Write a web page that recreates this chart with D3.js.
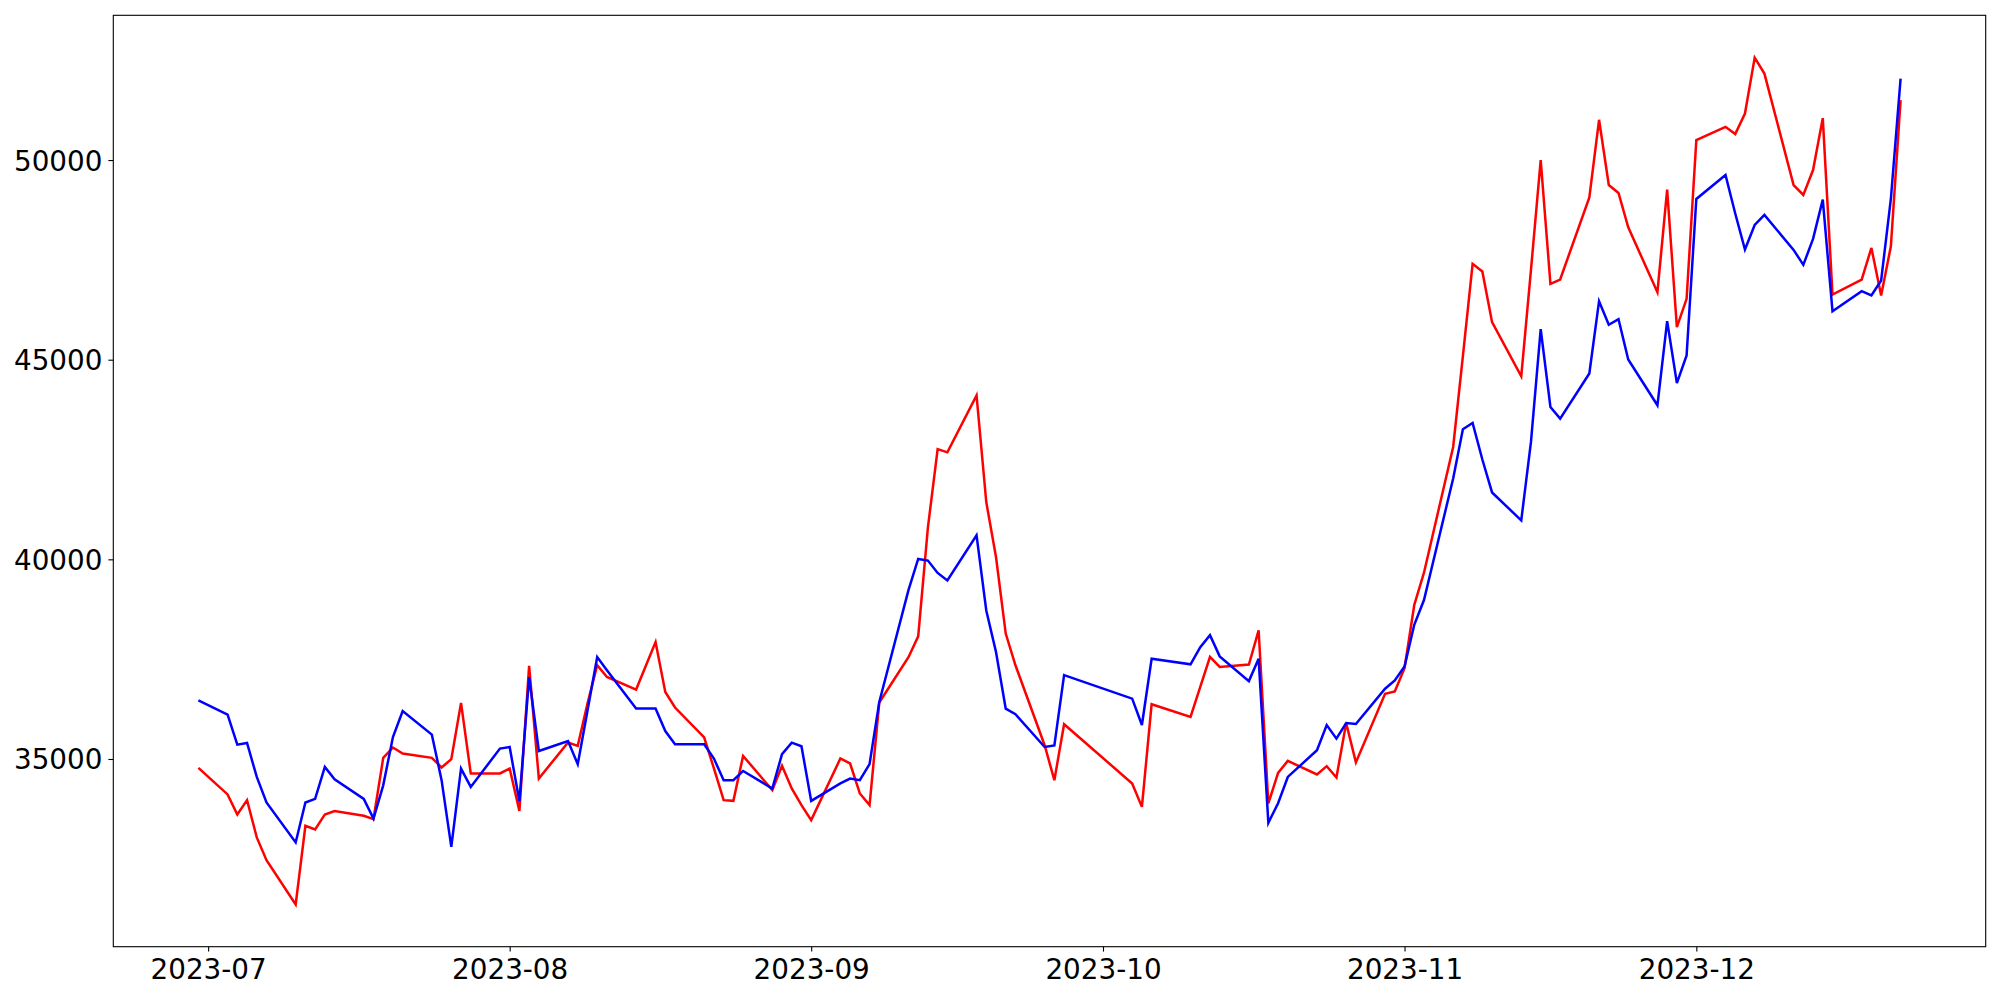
<!DOCTYPE html>
<html>
<head>
<meta charset="utf-8">
<script src="https://cdn.jsdelivr.net/npm/d3@7"></script>
<style>
  html, body { margin: 0; padding: 0; background: #fff; }
  svg { display: block; }
  text { font-family: "DejaVu Sans", sans-serif; }
</style>
</head>
<body>
<svg id="chart" width="2000" height="1000"></svg>
<script>
const dates = [
  "2023-06-30",
  "2023-07-03","2023-07-04","2023-07-05","2023-07-06","2023-07-07",
  "2023-07-10","2023-07-11","2023-07-12","2023-07-13","2023-07-14",
  "2023-07-17","2023-07-18","2023-07-19","2023-07-20","2023-07-21",
  "2023-07-24","2023-07-25","2023-07-26","2023-07-27","2023-07-28",
  "2023-07-31","2023-08-01","2023-08-02","2023-08-03","2023-08-04",
  "2023-08-07","2023-08-08","2023-08-09","2023-08-10","2023-08-11",
  "2023-08-14","2023-08-16","2023-08-17","2023-08-18",
  "2023-08-21","2023-08-22","2023-08-23","2023-08-24","2023-08-25",
  "2023-08-28","2023-08-29","2023-08-30","2023-08-31","2023-09-01",
  "2023-09-04","2023-09-05","2023-09-06","2023-09-07","2023-09-08",
  "2023-09-11","2023-09-12","2023-09-13","2023-09-14","2023-09-15",
  "2023-09-18","2023-09-19","2023-09-20","2023-09-21","2023-09-22",
  "2023-09-25","2023-09-26","2023-09-27",
  "2023-10-04","2023-10-05","2023-10-06",
  "2023-10-10","2023-10-11","2023-10-12","2023-10-13",
  "2023-10-16","2023-10-17","2023-10-18","2023-10-19","2023-10-20",
  "2023-10-23","2023-10-24","2023-10-25","2023-10-26","2023-10-27",
  "2023-10-30","2023-10-31","2023-11-01","2023-11-02","2023-11-03",
  "2023-11-06","2023-11-07","2023-11-08","2023-11-09","2023-11-10",
  "2023-11-13","2023-11-14","2023-11-15","2023-11-16","2023-11-17",
  "2023-11-20","2023-11-21","2023-11-22","2023-11-23","2023-11-24",
  "2023-11-27","2023-11-28","2023-11-29","2023-11-30","2023-12-01",
  "2023-12-04","2023-12-05","2023-12-06","2023-12-07","2023-12-08",
  "2023-12-11","2023-12-12","2023-12-13","2023-12-14","2023-12-15",
  "2023-12-18","2023-12-19","2023-12-20","2023-12-21","2023-12-22"
];

const redValues = [
  34777,
  34112,33611,33969,33035,32467,
  31359,33326,33235,33611,33694,
  33576,33494,35028,35288,35138,
  35028,34787,34995,36404,34637,
  34637,34762,33700,37330,34512,
  35413,35328,36389,37347,37055,
  36739,37930,36679,36289,
  35538,34762,33969,33951,35078,
  34219,34828,34262,33844,33469,
  35012,34887,34137,33844,36414,
  37550,38070,40800,42760,42680,
  44104,41434,40058,38141,37347,
  35345,34469,35871,
  34387,33801,36372,
  36054,36804,37555,37305,
  37365,38223,33886,34652,34952,
  34612,34820,34537,35900,34915,
  36633,36690,37275,38858,39665,
  42815,45090,47400,47208,45940,
  44583,47250,50000,46900,47008,
  49065,51008,49375,49175,48315,
  46690,49258,45815,46525,50500,
  50832,50650,51165,52565,52165,
  49375,49125,49750,51050,46633,
  47008,47800,46608,47840,51500
];

const blueValues = [
  36470,
  36110,35360,35400,34550,33910,
  32910,33910,34000,34800,34490,
  34000,33510,34340,35550,36200,
  35610,34470,32800,34760,34300,
  35260,35300,33940,37050,35200,
  35450,34870,36210,37555,37225,
  36264,36264,35700,35370,
  35370,35010,34470,34470,34700,
  34260,35120,35410,35320,33950,
  34390,34510,34470,34870,36430,
  39230,40010,39970,39660,39470,
  40600,38720,37680,36260,36120,
  35300,35340,37100,
  36510,35850,37510,
  37370,37800,38100,37570,
  36950,37510,33400,33890,34550,
  35220,35850,35510,35900,35875,
  36760,36965,37315,38360,38980,
  42025,43260,43415,42500,41675,
  40975,42940,45765,43815,43525,
  44655,46465,45875,46015,45005,
  43858,45965,44415,45108,49025,
  49625,48660,47758,48375,48625,
  47750,47375,48025,49008,46215,
  46715,46608,46983,49025,52040
];

const yTickValues = [35000, 40000, 45000, 50000];
const xTickLabels = ["2023-07", "2023-08", "2023-09", "2023-10", "2023-11", "2023-12"];

const W = 2000, H = 1000;
const margin = { left: 113.3, right: W - 1985.7, top: 15.3, bottom: H - 946.7 };
const svg = d3.select("#chart");

const parse = d3.utcParse("%Y-%m-%d");
const parsedDates = dates.map(parse);
const redSeries = parsedDates.map((d, i) => ({ date: d, value: redValues[i] }));
const blueSeries = parsedDates.map((d, i) => ({ date: d, value: blueValues[i] }));

// matplotlib-like 5% auto margins
const xExt = d3.extent(parsedDates);
const xPad = (xExt[1] - xExt[0]) * 0.05;
const allVals = redValues.concat(blueValues);
const yExt = d3.extent(allVals);
const yPad = (yExt[1] - yExt[0]) * 0.05;

const x = d3.scaleUtc()
  .domain([new Date(+xExt[0] - xPad), new Date(+xExt[1] + xPad)])
  .range([margin.left, W - margin.right]);
const y = d3.scaleLinear()
  .domain([yExt[0] - yPad, yExt[1] + yPad])
  .range([H - margin.bottom, margin.top]);

const fontSize = 27.8;
const tickLen = 4.9;

// X axis
const xTicks = xTickLabels.map(s => d3.utcParse("%Y-%m")(s));
const xAxis = d3.axisBottom(x)
  .tickValues(xTicks)
  .tickFormat((d, i) => xTickLabels[i])
  .tickSize(tickLen)
  .tickSizeOuter(0)
  .tickPadding(7);
const gx = svg.append("g")
  .attr("transform", `translate(0,${H - margin.bottom})`)
  .call(xAxis);
gx.select(".domain").remove();
gx.selectAll(".tick line").attr("stroke", "#000").attr("stroke-width", 1.1);
gx.selectAll(".tick text")
  .attr("fill", "#000")
  .attr("font-family", "DejaVu Sans, sans-serif")
  .attr("font-size", fontSize)
  .attr("dy", null)
  .attr("y", 32.6);

// Y axis
const yAxis = d3.axisLeft(y)
  .tickValues(yTickValues)
  .tickFormat(d3.format("d"))
  .tickSize(tickLen)
  .tickSizeOuter(0)
  .tickPadding(6);
const gy = svg.append("g")
  .attr("transform", `translate(${margin.left},0)`)
  .call(yAxis);
gy.select(".domain").remove();
gy.selectAll(".tick line").attr("stroke", "#000").attr("stroke-width", 1.1);
gy.selectAll(".tick text")
  .attr("fill", "#000")
  .attr("font-family", "DejaVu Sans, sans-serif")
  .attr("font-size", fontSize)
  .attr("dy", "0.36em");

// Lines
const line = d3.line()
  .x(d => x(d.date))
  .y(d => y(d.value));

const plot = svg.append("g");
plot.append("path")
  .datum(redSeries)
  .attr("fill", "none")
  .attr("stroke", "#ff0000")
  .attr("stroke-width", 2.5)
  .attr("stroke-linejoin", "miter")
  .attr("d", line);
plot.append("path")
  .datum(blueSeries)
  .attr("fill", "none")
  .attr("stroke", "#0000ff")
  .attr("stroke-width", 2.5)
  .attr("stroke-linejoin", "miter")
  .attr("d", line);

// Frame
svg.append("rect")
  .attr("x", margin.left)
  .attr("y", margin.top)
  .attr("width", W - margin.left - margin.right)
  .attr("height", H - margin.top - margin.bottom)
  .attr("fill", "none")
  .attr("stroke", "#000")
  .attr("stroke-width", 1.1);
</script>
</body>
</html>
